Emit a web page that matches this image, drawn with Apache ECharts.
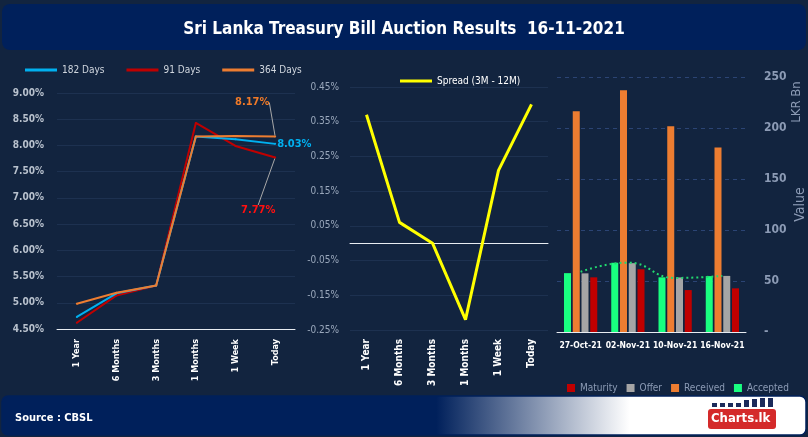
<!DOCTYPE html>
<html><head><meta charset="utf-8">
<script src="https://cdn.jsdelivr.net/npm/echarts@6/dist/echarts.min.js"></script>
<style>html,body{margin:0;padding:0;background:#12243F;}#c{width:808px;height:437px;}</style>
</head><body><div id="c"></div>
<script>
const tenors = ['1 Year','6 Months','3 Months','1 Months','1 Week','Today'];
const yield182 = [4.73, 5.18, 5.33, 8.17, 8.12, 8.03];
const yield91 = [4.62, 5.14, 5.33, 8.43, 7.99, 7.77];
const yield364 = [4.98, 5.19, 5.33, 8.17, 8.18, 8.17];
const spread = [0.37, 0.06, 0.00, -0.22, 0.21, 0.40];
const auctionDates = ['27-Oct-21','02-Nov-21','10-Nov-21','16-Nov-21'];
const accepted = [57.7, 67.9, 53.6, 54.8];
const received = [216.4, 237.0, 201.6, 180.9];
const offer = [57.5, 67.5, 53.5, 55.0];
const maturity = [53.6, 61.5, 41.1, 42.8];
const acceptedTrend = [59, 68, 53, 55];
const yieldTicks = {min: 4.5, max: 9, interval: 0.5};
const spreadTicks = {min: -0.25, max: 0.45, interval: 0.1};
const valueTicks = {min: 0, max: 250, interval: 50};

const FF = "'DejaVu Sans Condensed','Liberation Sans Narrow',sans-serif";
const chart = echarts.init(document.getElementById('c'), null, {renderer: 'canvas'});

function lastLabel(arr, color, pos) {
  return arr.map((v, i) => i === arr.length - 1 ? {
    value: v,
    label: {show: true, position: pos || 'inside', distance: 1, color: color, fontFamily: FF, fontWeight: 'bold', fontSize: 11,
      formatter: p => p.value.toFixed(2) + '%'}
  } : v);
}

const option = {
  backgroundColor: '#12243F',
  animation: false,
  title: [
    {text: 'Sri Lanka Treasury Bill Auction Results  16-11-2021', left: 'center', top: 16,
     textStyle: {color: '#fff', fontFamily: FF, fontWeight: 'bold', fontSize: 17}},
    {text: 'Source : CBSL', left: 10, top: 408,
     textStyle: {color: '#fff', fontFamily: FF, fontWeight: 'bold', fontSize: 11}}
  ],
  graphic: [
    {type: 'rect', z: -10, shape: {x: 2, y: 4, width: 804, height: 46, r: 8}, style: {fill: '#00205B'}},
    {type: 'rect', z: -10, shape: {x: 2, y: 396, width: 804, height: 39, r: 6},
     style: {stroke: '#00205B', lineWidth: 1.5, fill: new echarts.graphic.LinearGradient(0, 0, 1, 0, [
       {offset: 0, color: '#00205B'}, {offset: 0.54, color: '#00205B'}, {offset: 0.78, color: '#ffffff'}, {offset: 1, color: '#ffffff'}])}},
    {type: 'rect', shape: {x: 708, y: 409, width: 68, height: 20, r: 3}, style: {fill: '#D42A2A'}},
    {type: 'text', left: 711, top: 412, style: {text: 'Charts.lk', fill: '#fff', font: "bold 13px " + FF}},
    {type: 'rect', shape: {x: 712, y: 403, width: 5, height: 4}, style: {fill: '#1B2A5A'}},
    {type: 'rect', shape: {x: 720, y: 403, width: 5, height: 4}, style: {fill: '#1B2A5A'}},
    {type: 'rect', shape: {x: 728, y: 403, width: 5, height: 4}, style: {fill: '#1B2A5A'}},
    {type: 'rect', shape: {x: 736, y: 403, width: 5, height: 4}, style: {fill: '#1B2A5A'}},
    {type: 'rect', shape: {x: 744, y: 400, width: 5, height: 7}, style: {fill: '#1B2A5A'}},
    {type: 'rect', shape: {x: 752, y: 399, width: 5, height: 8}, style: {fill: '#1B2A5A'}},
    {type: 'rect', shape: {x: 760, y: 398, width: 5, height: 9}, style: {fill: '#1B2A5A'}},
    {type: 'rect', shape: {x: 768, y: 398, width: 5, height: 9}, style: {fill: '#1B2A5A'}},
    {type: 'text', x: 797, y: 102, rotation: Math.PI / 2, style: {text: 'LKR Bn', fill: '#8C9BB5', font: "13px " + FF, align: 'center', verticalAlign: 'middle'}}
  ],
  legend: [
    {data: ['182 Days', '91 Days', '364 Days'], left: 20, top: 60, icon: 'rect', itemWidth: 32, itemHeight: 3, itemGap: 22,
     textStyle: {color: '#D0D6DE', fontFamily: FF, fontSize: 10}},
    {data: ['Spread (3M - 12M)'], left: 395, top: 71, icon: 'rect', itemWidth: 32, itemHeight: 3, itemGap: 10,
     textStyle: {color: '#fff', fontFamily: FF, fontSize: 10}},
    {data: ['Maturity', 'Offer', 'Received', 'Accepted'], left: 562, top: 378, width: 246, icon: 'rect', itemWidth: 8, itemHeight: 8, itemGap: 9,
     textStyle: {color: '#8C9BB5', fontFamily: FF, fontSize: 10}}
  ],
  grid: [
    {left: 57, right: 513, top: 93, bottom: 108},
    {left: 350, right: 260, top: 87, bottom: 107},
    {left: 557, right: 61, top: 77, bottom: 105}
  ],
  xAxis: [
    {gridIndex: 0, type: 'category', data: tenors, boundaryGap: true,
     axisLine: {lineStyle: {color: '#E8ECF2', width: 1}}, axisTick: {show: false},
     axisLabel: {rotate: 90, color: '#fff', fontFamily: FF, fontWeight: 'bold', fontSize: 9, margin: 10}},
    {gridIndex: 1, type: 'category', data: tenors, boundaryGap: true,
     axisLine: {onZero: true, lineStyle: {color: '#E8ECF2', width: 1}}, axisTick: {show: false},
     axisLabel: {rotate: 90, color: '#fff', fontFamily: FF, fontWeight: 'bold', fontSize: 10, margin: 9}},
    {gridIndex: 2, type: 'category', data: auctionDates, boundaryGap: true,
     axisLine: {lineStyle: {color: '#E8ECF2', width: 1}}, axisTick: {show: false},
     axisLabel: {color: '#fff', fontFamily: FF, fontWeight: 'bold', fontSize: 8.5, margin: 9, interval: 0}}
  ],
  yAxis: [
    {gridIndex: 0, type: 'value', min: yieldTicks.min, max: yieldTicks.max, interval: yieldTicks.interval,
     axisLine: {show: false}, axisTick: {show: false},
     splitLine: {lineStyle: {color: '#1D3150', width: 1}},
     axisLabel: {color: '#B8C1CD', fontFamily: FF, fontWeight: 'bold', fontSize: 10, margin: 13, formatter: v => v.toFixed(2) + '%'}},
    {gridIndex: 1, type: 'value', min: spreadTicks.min, max: spreadTicks.max, interval: spreadTicks.interval,
     axisLine: {show: false}, axisTick: {show: false},
     splitLine: {lineStyle: {color: '#1D3150', width: 1}},
     axisLabel: {color: '#9AA8BC', fontFamily: FF, fontSize: 10, margin: 11, formatter: v => v.toFixed(2) + '%'}},
    {gridIndex: 2, type: 'value', position: 'right', min: valueTicks.min, max: valueTicks.max, interval: valueTicks.interval,
     axisLine: {show: false}, axisTick: {show: false},
     splitLine: {lineStyle: {color: '#2B4474', width: 1, type: [4, 4]}},
     axisLabel: {color: '#8C9BB5', fontFamily: FF, fontWeight: 'bold', fontSize: 12, margin: 18, formatter: v => v === 0 ? '-' : String(v)},
     name: 'Value', nameLocation: 'middle', nameGap: 47, nameRotate: 90,
     nameTextStyle: {color: '#8C9BB5', fontFamily: FF, fontSize: 14}}
  ],
  series: [
    {name: '182 Days', type: 'line', xAxisIndex: 0, yAxisIndex: 0, data: lastLabel(yield182, '#00B0F0', 'right'),
     symbol: 'circle', symbolSize: 2, itemStyle: {color: '#00B0F0'}, lineStyle: {color: '#00B0F0', width: 2}, z: 3},
    {name: '91 Days', type: 'line', xAxisIndex: 0, yAxisIndex: 0, data: lastLabel(yield91, '#FF1010'),
     symbol: 'circle', symbolSize: 2, itemStyle: {color: '#C00000'}, lineStyle: {color: '#C00000', width: 2}, z: 2,
     labelLayout: p => p.dataIndex === 5 ? {dx: -17, dy: 53} : null,
     labelLine: {show: true, lineStyle: {color: '#A8A8A8', width: 1}}},
    {name: '364 Days', type: 'line', xAxisIndex: 0, yAxisIndex: 0, data: lastLabel(yield364, '#F07A28'),
     symbol: 'circle', symbolSize: 2, itemStyle: {color: '#ED7D31'}, lineStyle: {color: '#ED7D31', width: 2}, z: 4,
     labelLayout: p => p.dataIndex === 5 ? {dx: -23, dy: -34} : null,
     labelLine: {show: true, lineStyle: {color: '#A8A8A8', width: 1}}},
    {name: 'Spread (3M - 12M)', type: 'line', xAxisIndex: 1, yAxisIndex: 1, data: spread,
     symbol: 'none', itemStyle: {color: '#FFFF00'}, lineStyle: {color: '#FFFF00', width: 3}},
    {name: 'Accepted', type: 'bar', xAxisIndex: 2, yAxisIndex: 2, data: accepted, barWidth: 7, barGap: '25%',
     itemStyle: {color: '#19FF80'}},
    {name: 'Received', type: 'bar', xAxisIndex: 2, yAxisIndex: 2, data: received, barWidth: 7, barGap: '25%',
     itemStyle: {color: '#ED7D31'}},
    {name: 'Offer', type: 'bar', xAxisIndex: 2, yAxisIndex: 2, data: offer, barWidth: 7, barGap: '25%',
     itemStyle: {color: '#A5A5A5'}},
    {name: 'Maturity', type: 'bar', xAxisIndex: 2, yAxisIndex: 2, data: maturity, barWidth: 7, barGap: '25%',
     itemStyle: {color: '#C00000'}},
    {name: 'Accepted trend', type: 'line', xAxisIndex: 2, yAxisIndex: 2, data: acceptedTrend, smooth: 0.5,
     symbol: 'none', lineStyle: {color: '#22D96F', width: 2, type: [2, 3]}, z: 5}
  ]
};
chart.setOption(option);
</script></body></html>
